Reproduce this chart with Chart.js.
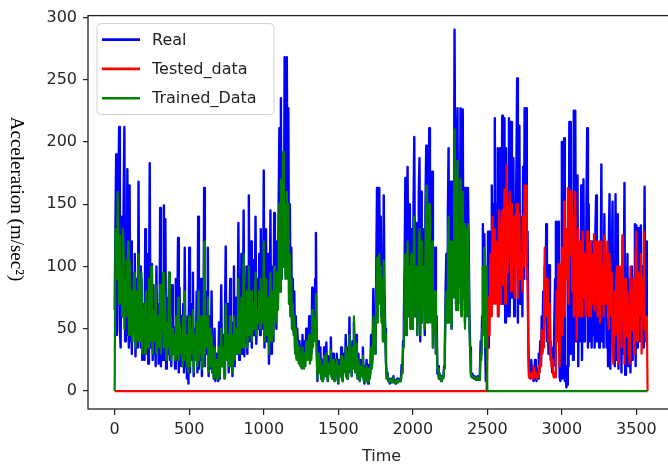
<!DOCTYPE html>
<html><head><meta charset="utf-8">
<script src="https://cdn.jsdelivr.net/npm/chart.js@4/dist/chart.umd.min.js"></script>
<style>
html,body{margin:0;padding:0;background:#fff;overflow:hidden;width:668px;height:469px}
#wrap{position:relative;width:680px;height:469px}
</style>
</head><body><div id="wrap"><canvas id="c" width="680" height="469"></canvas></div>
<script>
// ---------------- data ----------------
const timeStep = 5; // time units between consecutive samples
const seriesLabels = ['Real', 'Tested_data', 'Trained_Data'];
const xTickValues = [0, 500, 1000, 1500, 2000, 2500, 3000, 3500];
const yTickValues = [0, 50, 100, 150, 200, 250, 300];

// measured acceleration, t = 0 .. 3575
const realValues = [
 65,130,190,45,120,165,212,50,35,140,95,60,150,212,40,130,45,178,100,35,
 165,40,120,30,95,70,55,110,28,90,60,35,168,40,100,35,90,25,70,45,
 25,130,30,75,110,22,60,183,35,80,102,25,85,30,60,20,100,35,70,22,
 30,147,20,90,70,25,149,40,138,18,75,45,30,95,25,60,20,85,30,50,
 51,18,90,25,60,123,15,83,40,20,60,25,70,15,115,20,50,10,60,6,
 115,15,70,25,50,95,12,40,50,30,80,15,140,18,60,25,90,12,45,20,
 163,20,80,30,60,115,12,45,60,18,80,15,40,10,50,8,30,15,25,8,
 55,10,40,85,20,35,45,12,60,116,25,50,70,15,40,90,20,55,12,35,
 100,20,60,75,30,50,135,25,90,35,110,30,60,145,28,80,40,100,30,70,
 157,40,90,120,35,70,105,45,80,140,38,60,90,50,110,45,130,55,75,50,
 177,35,100,130,40,80,110,22,70,145,30,60,100,40,143,60,90,50,120,70,
 150,211,80,235,90,150,190,100,268,100,180,268,120,227,70,150,60,115,50,90,
 48,80,35,60,27,50,35,27,40,25,30,19,45,25,19,40,25,50,35,30,
 35,60,25,45,30,83,40,60,45,90,127,40,8,40,30,15,35,10,25,8,
 10,35,20,12,39,15,8,28,20,15,43,12,10,30,20,8,25,15,30,10,
 6,25,15,12,35,10,8,30,20,18,45,12,10,35,15,59,20,30,12,40,
 20,55,30,15,45,20,10,30,15,8,25,20,12,35,10,6,20,12,25,8,
 6,21,10,15,45,20,30,82,35,60,30,100,163,60,120,163,80,140,60,110,
 40,157,80,50,24,10,15,8,10,6,8,10,7,8,12,7,9,6,8,10,
 7,9,8,10,8,21,15,40,60,100,171,45,120,180,70,110,150,50,130,60,
 50,150,204,60,120,135,45,100,160,187,40,160,55,120,80,130,45,150,197,60,
 100,60,211,140,60,100,176,35,100,60,115,30,60,14,20,10,14,11,8,12,
 12,11,20,35,80,110,60,140,195,60,120,168,50,168,100,80,290,160,70,180,
 227,70,160,90,227,65,130,226,80,163,55,110,163,70,163,120,60,35,14,12,
 14,11,10,12,11,9,10,12,11,9,14,40,30,60,134,50,126,40,8,20,
 60,128,35,128,90,73,165,80,150,73,219,80,150,100,195,60,150,195,70,130,
 221,70,150,219,55,195,120,60,150,219,60,130,216,75,150,187,60,140,120,180,
 251,55,170,213,70,130,140,60,180,90,227,150,227,90,128,40,11,20,10,25,
 12,20,8,10,25,12,8,18,10,30,15,40,20,60,35,80,40,100,60,134,
 40,80,30,101,60,25,35,15,35,20,60,90,136,40,90,136,115,11,8,60,
 200,10,60,203,8,20,3,5,90,20,216,30,216,60,110,25,225,60,225,40,
 90,173,20,110,60,40,165,25,90,170,40,120,60,150,211,35,150,40,100,120,
 35,120,45,100,35,130,157,40,100,60,35,120,80,182,40,100,35,142,60,100,
 35,90,20,120,158,18,60,100,152,30,80,20,158,25,60,142,18,90,40,80,
 15,110,30,80,167,13,80,40,110,20,60,90,15,50,100,25,90,40,134,20,
 133,35,80,131,40,74,133,40,100,35,60,164,40,120,60,60
];

// trained-model output over the training span (t = 0 .. 2495)
const trainedValues = [
 0,130,110,90,160,120,70,125,85,100,60,130,110,50,90,70,105,60,120,45,
 105,45,80,60,40,70,95,50,35,80,60,40,110,55,40,70,95,30,65,45,
 70,30,80,55,45,35,90,60,40,100,45,30,65,50,40,85,30,60,45,35,
 40,85,30,60,50,95,35,80,60,25,55,40,35,95,30,60,25,50,40,30,
 45,25,60,40,30,75,25,55,45,30,45,20,60,25,80,30,45,20,40,15,
 60,20,50,35,30,65,15,40,45,25,55,20,80,25,50,30,60,18,40,20,
 120,30,60,45,35,75,15,40,50,20,45,15,30,10,35,12,25,10,20,10,
 35,12,30,50,20,30,35,10,40,70,25,40,45,20,35,60,20,45,15,30,
 60,25,45,50,30,40,90,30,60,40,75,35,50,110,35,60,45,80,35,55,
 100,45,70,80,40,60,70,50,65,95,45,60,65,55,80,50,90,55,65,55,
 120,40,75,90,45,65,75,30,60,95,40,55,80,45,100,60,80,55,95,65,
 100,150,80,170,90,120,192,100,150,90,140,160,90,150,70,110,60,90,50,70,
 45,60,30,50,25,40,30,22,35,20,25,18,35,22,18,30,20,40,30,25,
 30,45,22,35,25,65,35,45,40,60,78,30,10,30,25,15,25,10,20,8,
 10,28,18,12,30,14,8,22,18,14,33,12,10,25,18,8,22,14,25,10,
 7,20,14,12,28,10,8,24,18,15,35,12,10,30,15,45,18,25,12,35,
 18,60,28,15,38,20,10,25,15,8,20,18,12,28,10,7,18,12,20,8,
 7,18,10,14,35,18,25,60,30,50,30,80,107,55,95,110,70,100,55,90,
 40,105,70,45,22,10,12,8,9,7,8,9,7,8,11,7,8,6,8,9,
 7,8,8,9,8,15,14,35,40,80,110,45,90,120,60,95,100,50,110,55,
 50,110,140,60,100,100,45,80,120,130,45,120,55,100,70,100,50,120,165,55,
 90,55,150,110,55,80,120,35,80,50,80,30,45,17,18,11,13,10,8,11,
 11,10,18,30,70,80,55,110,140,55,100,120,50,120,90,75,210,140,65,150,
 185,65,130,85,170,60,110,160,75,134,50,95,130,60,134,100,50,30,12,11,
 12,11,10,11,10,9,10,11,10,9,11,30,25,50,100,45,115,35,90,100
];

// tested-model output over the test span (t = 2500 .. 3575)
const testedValues = [
 30,75,50,45,110,60,85,140,70,85,130,70,95,120,60,110,145,70,100,130,
 145,85,110,162,70,130,181,95,120,140,160,120,80,150,100,130,140,75,120,150,
 150,75,130,142,90,110,110,80,140,100,165,130,165,100,90,30,11,14,10,12,
 15,10,20,11,12,15,10,11,12,20,15,25,20,49,30,35,60,115,60,90,
 60,90,40,70,30,40,20,25,15,11,15,11,40,80,60,102,40,20,60,102,
 115,45,80,152,60,100,130,90,163,70,120,160,110,161,80,140,60,120,160,100,
 41,90,130,60,88,120,70,60,128,90,75,110,60,90,128,70,60,100,120,60,
 110,70,90,126,65,100,120,80,60,100,120,55,90,120,70,100,60,125,80,70,
 85,120,60,50,110,80,60,95,40,22,60,80,45,90,100,50,22,70,100,60,
 35,125,60,70,22,90,50,44,80,60,30,22,100,49,70,60,90,30,49,110,
 128,40,70,95,60,80,110,30,90,60,128,50,60,40,60,0
];

// In the original plot the unused span of each prediction series is zero.
const trainedFull = trainedValues.concat(testedValues.map(() => 0));
const testedFull = trainedValues.map(() => 0).concat(testedValues);
const toPoints = arr => arr.map((v, i) => ({x: i * timeStep, y: v}));

// ---------------- chart ----------------
const FONT = '"DejaVu Sans", sans-serif';

const decorPlugin = {
  id: 'decor',
  afterDatasetsDraw(chart) {
    const {ctx, chartArea: a} = chart;
    ctx.save();
    ctx.strokeStyle = '#222';
    ctx.lineWidth = 1.3;
    ctx.strokeRect(a.left, a.top, a.right - a.left, a.bottom - a.top);
    ctx.restore();
  },
  afterDraw(chart) {
    const {ctx, chartArea: a} = chart;
    // legend (matplotlib-like, inside the axes, upper left)
    ctx.save();
    const bx = a.left + 9, by = a.top + 8, bw = 177, bh = 91, r = 4;
    ctx.beginPath();
    ctx.moveTo(bx + r, by);
    ctx.arcTo(bx + bw, by, bx + bw, by + bh, r);
    ctx.arcTo(bx + bw, by + bh, bx, by + bh, r);
    ctx.arcTo(bx, by + bh, bx, by, r);
    ctx.arcTo(bx, by, bx + bw, by, r);
    ctx.closePath();
    ctx.fillStyle = 'rgba(255,255,255,0.8)';
    ctx.fill();
    ctx.strokeStyle = '#d2d2d2';
    ctx.lineWidth = 1;
    ctx.stroke();
    ctx.font = '16px ' + FONT;
    ctx.textBaseline = 'middle';
    ctx.textAlign = 'left';
    chart.data.datasets.forEach((ds, i) => {
      const y = by + 16 + i * 29.3;
      ctx.strokeStyle = ds.borderColor;
      ctx.lineWidth = 2.6;
      ctx.beginPath();
      ctx.moveTo(bx + 5, y);
      ctx.lineTo(bx + 43, y);
      ctx.stroke();
      ctx.fillStyle = '#222';
      ctx.fillText(ds.label, bx + 55, y + 1);
    });
    ctx.restore();
    // y-axis label, reading top-to-bottom
    ctx.save();
    ctx.translate(16, 199);
    ctx.rotate(Math.PI / 2);
    ctx.font = '19px "Liberation Serif", "Times New Roman", serif';
    ctx.fillStyle = '#000';
    ctx.textAlign = 'center';
    ctx.textBaseline = 'middle';
    ctx.fillText('Acceleration (m/sec\u00B2)', 0, 0);
    ctx.restore();
  }
};

new Chart(document.getElementById('c'), {
  type: 'line',
  data: {
    datasets: [
      {label: seriesLabels[0], data: toPoints(realValues), borderColor: '#0000ff', borderWidth: 2.4, order: 3},
      {label: seriesLabels[1], data: toPoints(testedFull), borderColor: '#ff0000', borderWidth: 2.2, order: 2},
      {label: seriesLabels[2], data: toPoints(trainedFull), borderColor: '#008000', borderWidth: 2.2, order: 1}
    ]
  },
  options: {
    responsive: false,
    animation: false,
    devicePixelRatio: 1,
    datasets: {line: {pointRadius: 0, tension: 0, fill: false, borderJoinStyle: 'round'}},
    layout: {padding: {top: 14, right: 5, left: 0, bottom: 0}},
    plugins: {legend: {display: false}, tooltip: {enabled: false}},
    scales: {
      x: {
        type: 'linear', min: -179, max: 3759,
        afterBuildTicks: s => { s.ticks = xTickValues.map(v => ({value: v})); },
        afterFit: s => { s.height = 60; },
        border: {display: false},
        grid: {drawOnChartArea: false, drawTicks: true, tickLength: 6, color: '#222', lineWidth: 1.2},
        ticks: {font: {family: FONT, size: 16}, color: '#262626', padding: 5, maxRotation: 0,
                callback: v => String(v)},
        title: {display: true, text: 'Time', font: {family: FONT, size: 16}, color: '#262626', padding: {top: 0, bottom: 3}}
      },
      y: {
        type: 'linear', min: -14.4, max: 301.4,
        afterBuildTicks: s => { s.ticks = yTickValues.map(v => ({value: v})); },
        afterFit: s => { s.width = 88; },
        border: {display: false},
        grid: {drawOnChartArea: false, drawTicks: true, tickLength: 5, color: '#222', lineWidth: 1.2},
        ticks: {font: {family: FONT, size: 16}, color: '#262626', padding: 6, callback: v => String(v)}
      }
    }
  },
  plugins: [decorPlugin]
});
</script>
</body></html>
